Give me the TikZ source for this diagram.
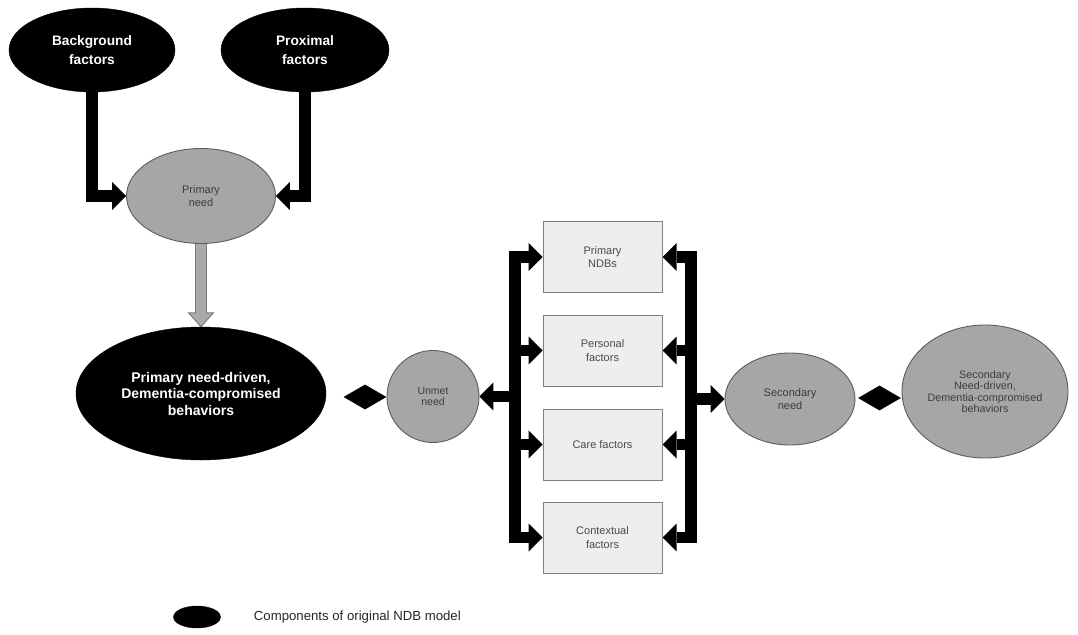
\documentclass[tikz,border=0pt]{standalone}
\usepackage{fontspec}
\setmainfont{Liberation Sans}
\usetikzlibrary{arrows.meta,shapes.geometric,calc,backgrounds}

\definecolor{needgray}{HTML}{A6A6A6}
\definecolor{neededge}{HTML}{5C5C5C}
\definecolor{needtext}{HTML}{3C3C3C}
\definecolor{boxfill}{HTML}{EEEEEE}
\definecolor{boxedge}{HTML}{7F7F7F}
\definecolor{boxtext}{HTML}{4A4A4A}
\definecolor{flowgray}{HTML}{A9A9A9}
\definecolor{flowedge}{HTML}{7A7A7A}

\tikzset{
  ndb/.style={ellipse, fill=black, draw=black, text=white, align=center,
    inner sep=0pt},
  topfont/.style={font=\bfseries\fontsize{13.7}{19}\selectfont},
  need/.style={ellipse, fill=needgray, draw=neededge, line width=0.9pt,
    text=needtext, align=center, inner sep=0pt,
    font=\fontsize{11}{13.5}\selectfont},
  factorbox/.style={rectangle, fill=boxfill, draw=boxedge, line width=1pt,
    text=boxtext, align=center, minimum width=119pt, minimum height=71pt,
    inner sep=0pt, font=\fontsize{11}{13.5}\selectfont},
  link/.style={diamond, fill=black, draw=none, inner sep=0pt,
    minimum width=43pt, minimum height=25pt},
  fat/.style={draw=black, line width=11.5pt, line join=miter,
    -{Triangle[length=14pt,width=28pt,line width=0pt]}},
  busline/.style={draw=black, line width=11.5pt, line cap=rect},
  flow/.style={fill=flowgray, draw=flowedge, line width=0.9pt, line join=miter},
}

\begin{document}
\begin{tikzpicture}[x=1pt,y=-1pt]
\useasboundingbox (0,0) rectangle (1078,634);

% components of the original NDB model
\node[ndb, topfont, minimum width=166pt, minimum height=84pt] (bg) at (92,50)
  {Background\\factors};
\node[ndb, topfont, minimum width=168pt, minimum height=84pt] (px) at (305,50)
  {Proximal\\factors};
\node[ndb, font=\bfseries\fontsize{14}{16.5}\selectfont,
  minimum width=250pt, minimum height=133pt] (pb) at (201,393.5)
  {Primary need-driven,\\Dementia-compromised\\behaviors};

% needs
\node[need, minimum width=149pt, minimum height=95pt] (pn) at (201,196)
  {Primary\\need};
\node[need, minimum width=92pt, minimum height=92pt,
  font=\fontsize{10.5}{11.5}\selectfont] (un) at (433,396.5) {Unmet\\need};
\node[need, minimum width=130pt, minimum height=92pt] (sn) at (790,399)
  {Secondary\\need};
\node[need, minimum width=166pt, minimum height=133pt,
  font=\fontsize{10.8}{11.5}\selectfont] (sb) at (985,391.5)
  {Secondary\\Need-driven,\\Dementia-compromised\\behaviors};

% factor boxes
\node[factorbox] (b1) at (602.5,257)   {Primary\\NDBs};
\node[factorbox] (b2) at (602.5,350.5) {Personal\\factors};
\node[factorbox] (b3) at (602.5,444.5) {Care factors};
\node[factorbox] (b4) at (602.5,537.5) {Contextual\\factors};

% diamond links
\node[link] (d1) at (365,397) {};
\node[link] (d2) at (879.5,398) {};

% bus positions
\coordinate (lbus) at (515,0);
\coordinate (rbus) at (691,0);

% legend
\node[ndb, minimum width=47pt, minimum height=22pt] (key) at (197,617) {};
\node[anchor=west, inner sep=0pt, text=black!85,
  font=\fontsize{13.2}{15}\selectfont] (keytext) at ($(key.east)+(33,0)$)
  {Components of original NDB model};

\begin{scope}[on background layer]
  % factors feeding the primary need
  \draw[fat] (bg.south) |- (pn.west);
  \draw[fat] (px.south) |- (pn.east);

  % primary need to primary behaviors
  \path (pn.south) coordinate (ga) (pb.north) coordinate (gb);
  \draw[flow] ($(ga)+(-5.5,-4)$) -- ($(gb)+(-5.5,-14)$) -- ($(gb)+(-12.5,-14)$)
    -- (gb) -- ($(gb)+(12.5,-14)$) -- ($(gb)+(5.5,-14)$)
    -- ($(ga)+(5.5,-4)$) -- cycle;

  % left bus: toward the factor boxes and the unmet need
  \draw[busline] (lbus |- b1.west) -- (lbus |- b4.west);
  \foreach \b in {b1,b2,b3,b4}
    \draw[fat] (lbus |- \b.west) -- (\b.west);
  \draw[fat] (lbus |- un.east) -- (un.east);

  % right bus: from the factor boxes to the secondary need
  \draw[busline] (rbus |- b1.east) -- (rbus |- b4.east);
  \foreach \b in {b1,b2,b3,b4}
    \draw[fat] (rbus |- \b.east) -- (\b.east);
  \draw[fat] (rbus |- sn.west) -- (sn.west);
\end{scope}
\end{tikzpicture}
\end{document}
